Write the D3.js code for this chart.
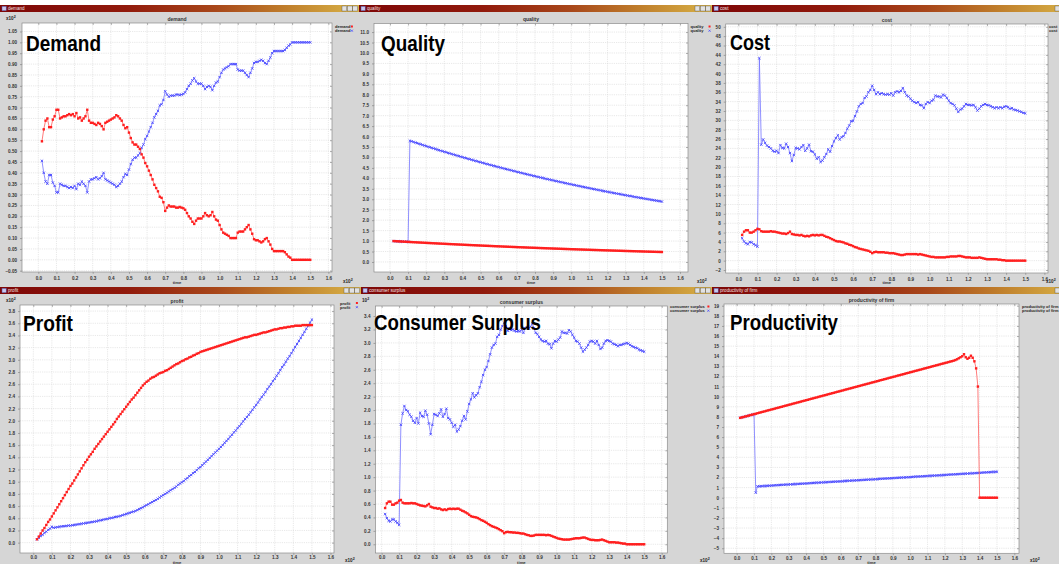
<!DOCTYPE html>
<html>
<head>
<meta charset="utf-8">
<script src="https://cdn.jsdelivr.net/npm/d3@7"></script>
<style>
  body { margin: 0; background: #fff; }
  svg { display: block; }
  text { font-family: "Liberation Sans", Arial, sans-serif; }
</style>
</head>
<body>
<div id="chart"></div>
<script>
// ---- simulation steps (time axis is shown in units of 10^2 steps) ----
const STEP = [
  2,3,4,5,6,7,8,9,10,11,
  12,13,14,15,16,17,18,19,20,21,
  22,23,24,25,26,27,28,29,30,31,
  32,33,34,35,36,37,38,39,40,41,
  42,43,44,45,46,47,48,49,50,51,
  52,53,54,55,56,57,58,59,60,61,
  62,63,64,65,66,67,68,69,70,71,
  72,73,74,75,76,77,78,79,80,81,
  82,83,84,85,86,87,88,89,90,91,
  92,93,94,95,96,97,98,99,100,101,
  102,103,104,105,106,107,108,109,110,111,
  112,113,114,115,116,117,118,119,120,121,
  122,123,124,125,126,127,128,129,130,131,
  132,133,134,135,136,137,138,139,140,141,
  142,143,144,145,146,147,148,149,150
];

// ---- demand (x10^2) ----
const demandRed = [
  0.545,0.60,0.64,0.65,0.61,0.61,0.645,0.66,0.69,0.69,
  0.65,0.655,0.66,0.66,0.665,0.67,0.665,0.67,0.66,0.675,
  0.65,0.655,0.64,0.65,0.66,0.69,0.64,0.63,0.63,0.625,
  0.62,0.63,0.625,0.615,0.60,0.63,0.635,0.64,0.645,0.65,
  0.655,0.665,0.66,0.65,0.64,0.62,0.605,0.61,0.585,0.56,
  0.54,0.53,0.53,0.52,0.51,0.485,0.47,0.445,0.43,0.41,
  0.39,0.37,0.345,0.33,0.315,0.29,0.285,0.265,0.225,0.24,
  0.25,0.245,0.245,0.245,0.24,0.24,0.243,0.24,0.237,0.23,
  0.215,0.20,0.19,0.175,0.165,0.18,0.19,0.19,0.19,0.20,
  0.215,0.205,0.20,0.205,0.22,0.20,0.185,0.18,0.16,0.14,
  0.125,0.12,0.115,0.11,0.10,0.10,0.10,0.10,0.125,0.13,
  0.13,0.13,0.14,0.15,0.16,0.14,0.12,0.095,0.09,0.09,
  0.085,0.08,0.085,0.095,0.10,0.085,0.07,0.05,0.04,0.04,
  0.04,0.04,0.04,0.04,0.035,0.025,0.015,0.01,0.0,0.0,
  0,0,0,0,0,0,0,0,0
];
const demandBlue = [
  0.455,0.40,0.36,0.35,0.39,0.39,0.355,0.34,0.31,0.31,
  0.35,0.345,0.34,0.34,0.335,0.33,0.335,0.33,0.34,0.325,
  0.35,0.345,0.36,0.35,0.34,0.31,0.36,0.37,0.37,0.375,
  0.38,0.37,0.375,0.385,0.40,0.37,0.365,0.36,0.355,0.35,
  0.345,0.335,0.34,0.35,0.36,0.38,0.395,0.39,0.415,0.44,
  0.46,0.47,0.47,0.48,0.49,0.515,0.53,0.555,0.57,0.59,
  0.61,0.63,0.655,0.67,0.685,0.71,0.715,0.735,0.775,0.76,
  0.75,0.755,0.755,0.755,0.76,0.76,0.757,0.76,0.763,0.77,
  0.785,0.80,0.81,0.825,0.835,0.82,0.81,0.81,0.81,0.80,
  0.785,0.795,0.80,0.795,0.78,0.80,0.815,0.82,0.84,0.86,
  0.875,0.88,0.885,0.89,0.90,0.90,0.90,0.90,0.875,0.87,
  0.87,0.87,0.86,0.85,0.84,0.86,0.88,0.905,0.91,0.91,
  0.915,0.92,0.915,0.905,0.90,0.915,0.93,0.95,0.96,0.96,
  0.96,0.96,0.96,0.96,0.965,0.975,0.985,0.99,1.0,1.0,
  1,1,1,1,1,1,1,1,1
];

// ---- quality ----
const qualityRed = [
  1.000,0.995,0.990,0.985,0.980,0.975,0.970,0.966,0.961,0.956,
  0.951,0.946,0.942,0.937,0.932,0.928,0.923,0.918,0.914,0.909,
  0.905,0.900,0.896,0.891,0.887,0.882,0.878,0.873,0.869,0.865,
  0.860,0.856,0.852,0.848,0.843,0.839,0.835,0.831,0.827,0.822,
  0.818,0.814,0.810,0.806,0.802,0.798,0.794,0.790,0.786,0.782,
  0.778,0.774,0.771,0.767,0.763,0.759,0.755,0.751,0.748,0.744,
  0.740,0.736,0.733,0.729,0.725,0.722,0.718,0.715,0.711,0.707,
  0.704,0.700,0.697,0.693,0.690,0.686,0.683,0.680,0.676,0.673,
  0.670,0.666,0.663,0.660,0.656,0.653,0.650,0.647,0.643,0.640,
  0.637,0.634,0.631,0.627,0.624,0.621,0.618,0.615,0.612,0.609,
  0.606,0.603,0.600,0.597,0.594,0.591,0.588,0.585,0.582,0.579,
  0.576,0.573,0.571,0.568,0.565,0.562,0.559,0.556,0.554,0.551,
  0.548,0.545,0.543,0.540,0.537,0.535,0.532,0.529,0.527,0.524,
  0.521,0.519,0.516,0.514,0.511,0.508,0.506,0.503,0.501,0.498,
  0.496,0.493,0.491,0.488,0.486,0.483,0.481,0.479,0.476
];
const qualityBlue = [
  1.000,0.995,0.990,0.985,0.980,0.975,0.970,0.966,0.961,
  5.800,5.771,5.742,5.713,5.685,5.656,5.628,5.600,5.572,5.544,
  5.516,5.488,5.461,5.434,5.406,5.379,5.352,5.326,5.299,5.273,
  5.247,5.220,5.194,5.168,5.142,5.117,5.091,5.066,5.040,5.015,
  4.990,4.965,4.940,4.916,4.891,4.867,4.842,4.818,4.794,4.770,
  4.746,4.722,4.699,4.675,4.652,4.629,4.606,4.583,4.560,4.537,
  4.514,4.492,4.469,4.447,4.425,4.403,4.381,4.359,4.337,4.315,
  4.293,4.272,4.250,4.229,4.208,4.187,4.166,4.145,4.124,4.104,
  4.083,4.063,4.043,4.022,4.002,3.982,3.962,3.943,3.923,3.903,
  3.884,3.864,3.845,3.826,3.807,3.788,3.769,3.750,3.731,3.713,
  3.694,3.676,3.657,3.639,3.621,3.603,3.585,3.567,3.549,3.531,
  3.513,3.496,3.478,3.461,3.444,3.426,3.409,3.392,3.375,3.358,
  3.341,3.325,3.308,3.292,3.275,3.259,3.243,3.227,3.210,3.194,
  3.178,3.162,3.147,3.131,3.115,3.100,3.084,3.069,3.054,3.038,
  3.023,3.008,2.993,2.978,2.963,2.949,2.934,2.919,2.905,2.890
];

// ---- cost ----
const costRed = [
  5.5,6.2,6.5,6.5,6.0,6.0,6.2,6.5,6.8,6.7,
  6.3,6.2,6.2,6.2,6.2,6.3,6.2,6.2,6.1,6.0,
  5.9,5.8,5.8,5.7,5.9,6.2,5.7,5.6,5.5,5.5,
  5.4,5.5,5.3,5.2,5.3,5.2,5.4,5.5,5.4,5.5,
  5.4,5.5,5.5,5.3,5.1,5.0,4.8,4.6,4.4,4.2,
  4.1,4.1,4.0,3.9,3.7,3.6,3.4,3.3,3.1,2.9,
  2.8,2.6,2.5,2.4,2.3,2.2,2.1,1.9,1.6,1.8,
  1.9,1.8,1.8,1.8,1.8,1.7,1.7,1.6,1.6,1.6,
  1.5,1.4,1.3,1.2,1.2,1.3,1.4,1.4,1.4,1.4,
  1.4,1.4,1.3,1.4,1.3,1.2,1.1,1.0,0.9,0.8,
  0.8,0.7,0.7,0.7,0.7,0.7,0.7,0.8,0.8,0.9,
  0.9,0.9,0.9,1.0,1.0,0.9,0.8,0.7,0.7,0.7,
  0.6,0.6,0.6,0.6,0.7,0.6,0.5,0.4,0.3,0.3,
  0.3,0.3,0.3,0.3,0.2,0.2,0.1,0.1,0.0,0.0,
  0,0,0,0,0,0,0,0,0
];
const costBlue = [
  4.8,4.1,3.7,3.5,4.0,3.9,3.5,3.3,3.0,43.3,
  24.8,25.9,25.2,24.6,24.3,24.0,23.5,23.3,23.5,23.0,
  24.7,24.1,24.0,25.0,24.3,23.0,21.3,22.6,24.1,24.0,
  23.8,24.3,24.7,23.5,24.0,24.8,23.4,23.3,22.7,21.8,
  22.1,21.1,21.4,22.1,22.8,23.8,23.3,24.5,25.5,26.2,
  26.8,25.9,26.4,26.6,27.3,28.2,28.9,29.8,29.9,30.9,
  31.9,33.0,33.5,33.7,34.8,35.1,36.0,36.5,37.4,36.5,
  35.6,36.0,35.6,35.8,35.6,35.5,35.6,35.5,35.8,35.3,
  36.0,36.2,36.0,36.3,36.9,36.0,35.3,35.1,34.6,34.2,
  33.9,33.7,33.9,33.3,33.2,32.6,33.5,33.9,33.7,34.2,
  34.4,35.3,35.1,35.1,34.9,35.5,35.3,34.8,34.2,33.7,
  33.5,33.2,32.5,31.8,32.3,32.5,33.0,33.5,33.3,33.3,
  33.2,33.3,32.8,32.1,32.5,33.0,33.3,33.5,33.3,33.2,
  33.0,32.8,32.6,32.8,32.6,32.8,32.6,32.9,33.0,32.8,
  32.5,32.6,32.3,32.2,32.1,31.9,31.8,31.6,31.5
];

// ---- profit ----
const profitRed = [
  0.055,0.10,0.15,0.20,0.24,0.29,0.34,0.38,0.43,0.48,
  0.53,0.58,0.63,0.68,0.73,0.78,0.83,0.88,0.93,0.97,
  1.02,1.07,1.12,1.17,1.22,1.27,1.32,1.36,1.41,1.45,
  1.49,1.54,1.58,1.62,1.66,1.70,1.74,1.78,1.82,1.86,
  1.90,1.94,1.98,2.03,2.07,2.11,2.15,2.19,2.23,2.27,
  2.31,2.35,2.38,2.42,2.46,2.50,2.54,2.58,2.61,2.64,
  2.66,2.69,2.71,2.72,2.74,2.76,2.78,2.79,2.80,2.82,
  2.83,2.85,2.87,2.89,2.91,2.93,2.94,2.96,2.98,2.99,
  3.01,3.02,3.04,3.05,3.07,3.08,3.10,3.11,3.13,3.14,
  3.15,3.16,3.17,3.18,3.19,3.20,3.21,3.22,3.23,3.24,
  3.25,3.26,3.27,3.28,3.29,3.30,3.31,3.32,3.33,3.34,
  3.35,3.36,3.37,3.37,3.38,3.39,3.40,3.41,3.41,3.42,
  3.43,3.44,3.45,3.45,3.46,3.47,3.48,3.49,3.50,3.50,
  3.51,3.52,3.52,3.53,3.53,3.54,3.54,3.55,3.55,3.56,
  3.56,3.56,3.56,3.57,3.57,3.57,3.57,3.57,3.57
];
const profitBlue = [
  0.055,0.08,0.11,0.13,0.16,0.18,0.21,0.23,0.26,0.245,
  0.25,0.255,0.26,0.265,0.27,0.27,0.275,0.28,0.28,0.285,
  0.29,0.295,0.30,0.305,0.31,0.315,0.32,0.325,0.33,0.335,
  0.34,0.345,0.35,0.36,0.365,0.37,0.38,0.385,0.39,0.40,
  0.405,0.41,0.42,0.425,0.43,0.44,0.45,0.46,0.47,0.48,
  0.49,0.50,0.51,0.52,0.535,0.55,0.565,0.58,0.60,0.615,
  0.63,0.65,0.665,0.685,0.70,0.72,0.74,0.76,0.78,0.80,
  0.82,0.84,0.86,0.88,0.90,0.92,0.95,0.97,0.99,1.01,
  1.04,1.06,1.09,1.11,1.14,1.16,1.19,1.22,1.24,1.27,
  1.30,1.33,1.36,1.39,1.42,1.45,1.48,1.51,1.54,1.57,
  1.60,1.64,1.67,1.70,1.74,1.77,1.81,1.84,1.88,1.91,
  1.95,1.99,2.03,2.06,2.10,2.14,2.18,2.22,2.26,2.30,
  2.35,2.39,2.43,2.47,2.52,2.56,2.60,2.65,2.69,2.74,
  2.78,2.83,2.88,2.92,2.97,3.02,3.06,3.11,3.16,3.21,
  3.26,3.31,3.36,3.41,3.46,3.51,3.56,3.61,3.66
];

// ---- consumer surplus ----
const surplusRed = [
  0.54,0.61,0.635,0.635,0.59,0.59,0.61,0.62,0.65,0.66,
  0.62,0.61,0.61,0.61,0.61,0.615,0.61,0.61,0.60,0.59,
  0.58,0.575,0.57,0.565,0.58,0.60,0.56,0.55,0.54,0.54,
  0.53,0.535,0.52,0.51,0.52,0.51,0.525,0.53,0.525,0.53,
  0.525,0.53,0.53,0.515,0.50,0.49,0.475,0.46,0.44,0.42,
  0.41,0.405,0.40,0.39,0.375,0.36,0.35,0.335,0.32,0.30,
  0.285,0.27,0.26,0.25,0.24,0.225,0.21,0.195,0.165,0.18,
  0.185,0.18,0.18,0.175,0.175,0.17,0.17,0.165,0.16,0.16,
  0.15,0.14,0.135,0.125,0.125,0.13,0.14,0.14,0.14,0.14,
  0.14,0.14,0.135,0.14,0.135,0.125,0.115,0.105,0.095,0.085,
  0.08,0.075,0.07,0.07,0.07,0.07,0.075,0.08,0.085,0.09,
  0.09,0.09,0.095,0.10,0.10,0.09,0.08,0.07,0.065,0.065,
  0.06,0.06,0.06,0.065,0.07,0.06,0.05,0.04,0.03,0.03,
  0.03,0.03,0.025,0.025,0.02,0.015,0.01,0.01,0.0,0.0,
  0,0,0,0,0,0,0,0,0
];
const surplusBlue = [
  0.45,0.39,0.35,0.34,0.37,0.37,0.34,0.32,0.29,1.78,
  1.95,2.06,2.00,1.98,1.93,1.90,1.84,1.81,1.88,1.80,
  1.96,1.91,1.90,1.99,1.93,1.80,1.64,1.78,1.94,1.93,
  1.91,1.95,2.01,1.90,1.94,2.02,1.88,1.86,1.81,1.75,
  1.78,1.68,1.71,1.76,1.84,1.91,1.86,1.98,2.09,2.16,
  2.25,2.19,2.22,2.25,2.34,2.42,2.52,2.60,2.64,2.73,
  2.83,2.93,2.97,2.99,3.09,3.12,3.20,3.25,3.30,3.25,
  3.18,3.22,3.19,3.20,3.18,3.17,3.18,3.17,3.20,3.15,
  3.22,3.23,3.22,3.24,3.29,3.22,3.15,3.13,3.09,3.05,
  3.03,3.02,3.03,2.99,2.98,2.92,2.99,3.03,3.02,3.05,
  3.08,3.17,3.15,3.15,3.14,3.19,3.17,3.12,3.08,3.03,
  3.02,2.99,2.93,2.87,2.90,2.93,2.97,3.02,3.03,3.02,
  2.99,3.03,2.97,2.91,2.93,2.99,3.03,3.04,3.03,3.02,
  2.99,2.98,2.97,2.95,2.97,2.97,2.98,2.99,3.00,2.99,
  2.97,2.95,2.94,2.93,2.92,2.90,2.89,2.88,2.87
];

// ---- productivity of firm ----
const prodRed = [
  7.90,7.95,7.99,8.04,8.08,8.13,8.18,8.22,8.27,8.31,
  8.36,8.41,8.45,8.50,8.54,8.59,8.64,8.68,8.73,8.77,
  8.82,8.87,8.91,8.96,9.00,9.05,9.10,9.14,9.19,9.23,
  9.28,9.33,9.37,9.42,9.46,9.51,9.56,9.60,9.65,9.69,
  9.74,9.79,9.83,9.88,9.92,9.97,10.02,10.06,10.11,10.15,
  10.20,10.25,10.29,10.34,10.38,10.43,10.48,10.52,10.57,10.61,
  10.66,10.71,10.75,10.80,10.84,10.89,10.94,10.98,11.03,11.07,
  11.12,11.17,11.21,11.26,11.30,11.35,11.40,11.44,11.49,11.53,
  11.58,11.63,11.67,11.72,11.76,11.81,11.86,11.90,11.95,11.99,
  12.04,12.09,12.13,12.18,12.22,12.27,12.32,12.36,12.41,12.45,
  12.50,12.55,12.59,12.64,12.68,12.73,12.78,12.82,12.87,12.91,
  12.96,13.01,13.05,13.10,13.14,13.19,13.24,13.28,13.33,13.37,
  13.42,13.47,13.51,13.56,13.62,13.70,13.80,13.90,14.00,14.20,
  13.90,13.75,13.85,14.05,13.85,13.50,12.80,11.00,0.00,0.00,
  0,0,0,0,0,0,0,0,0
];
const prodBlue = [
  7.90,7.95,7.99,8.04,8.08,8.13,8.18,8.22,8.27,0.50,
  1.12,1.13,1.14,1.15,1.16,1.17,1.18,1.19,1.20,1.21,
  1.23,1.24,1.25,1.26,1.27,1.28,1.29,1.30,1.31,1.32,
  1.33,1.34,1.35,1.36,1.37,1.38,1.39,1.40,1.41,1.42,
  1.44,1.45,1.46,1.47,1.48,1.49,1.50,1.51,1.52,1.53,
  1.54,1.55,1.56,1.57,1.58,1.59,1.60,1.61,1.62,1.63,
  1.65,1.66,1.67,1.68,1.69,1.70,1.71,1.72,1.73,1.74,
  1.75,1.76,1.77,1.78,1.79,1.80,1.81,1.82,1.83,1.84,
  1.86,1.87,1.88,1.89,1.90,1.91,1.92,1.93,1.94,1.95,
  1.96,1.97,1.98,1.99,2.00,2.01,2.02,2.03,2.04,2.05,
  2.07,2.08,2.09,2.10,2.11,2.12,2.13,2.14,2.15,2.16,
  2.17,2.18,2.19,2.20,2.21,2.22,2.23,2.24,2.25,2.26,
  2.28,2.29,2.30,2.31,2.32,2.33,2.34,2.35,2.36,2.37,
  2.38,2.39,2.40,2.41,2.42,2.43,2.44,2.45,2.46,2.47,
  2.49,2.50,2.51,2.52,2.53,2.54,2.55,2.56,2.57
];

// ---- x axis tick labels (time, x10^2) ----
const X_TICKS = [0.0,0.1,0.2,0.3,0.4,0.5,0.6,0.7,0.8,0.9,1.0,1.1,1.2,1.3,1.4,1.5,1.6];

// ---- panel layout ----
const panels = [
  { key: "demand", title: "demand", legend: "demand", label: "Demand",
    win: [0, 5, 359, 282], plot: [22, 23, 332, 272],
    xDom: [-0.09, 1.62], yDom: [-0.056, 1.089], yTicks: [-0.05, 1.05, 0.05], fmt: ".2f",
    red: demandRed, blue: demandBlue,
    labelAt: [26, 50.5, 75], legendAt: [335, 26.5], yMult: [6, 20], xMult: [343, 283],
    timeY: 283.5, xPad: 2.5 },
  { key: "quality", title: "quality", legend: "quality", label: "Quality",
    win: [359, 5, 353, 282], plot: [374, 23.5, 688, 272],
    xDom: [-0.088, 1.644], yDom: [-0.48, 11.41], yTicks: [0, 11, 0.5], fmt: ".1f",
    red: qualityRed, blue: qualityBlue,
    labelAt: [381, 50.5, 64], legendAt: [690.5, 26.5], yMult: null, xMult: [697, 283],
    timeY: 283.5, xPad: 2.5 },
  { key: "cost", title: "cost", legend: "cost", label: "Cost",
    win: [712, 5, 360, 282], plot: [725.7, 24, 1048, 273],
    xDom: [-0.066, 1.619], yDom: [-2.64, 50.6], yTicks: [-2, 50, 2], fmt: "d",
    red: costRed, blue: costBlue,
    labelAt: [730, 50, 40], legendAt: [1049, 26.7], yMult: null, xMult: [1046, 283],
    timeY: 284, xPad: 2.5 },
  { key: "profit", title: "profit", legend: "profit", label: "Profit",
    win: [0, 287, 361, 280], plot: [20, 305, 334, 553],
    xDom: [-0.0716, 1.619], yDom: [-0.17, 3.9], yTicks: [0, 3.8, 0.2], fmt: ".1f",
    red: profitRed, blue: profitBlue,
    labelAt: [23, 330.7, 50], legendAt: [340, 303], yMult: [6, 302], xMult: [345, 562],
    timeY: 563.6, xPad: 1.2 },
  { key: "surplus", title: "consumer surplus", legend: "consumer surplus", label: "Consumer Surplus",
    win: [361, 287, 351, 280], plot: [375.5, 306, 667.3, 553],
    xDom: [-0.035, 1.632], yDom: [-0.13, 3.55], yTicks: [0, 3.4, 0.2], fmt: ".1f",
    red: surplusRed, blue: surplusBlue,
    labelAt: [374, 330, 167], legendAt: [670, 306.5], yMult: [362, 302], xMult: [700, 562],
    timeY: 563.6, xPad: 1.2 },
  { key: "productivity", title: "productivity of firm", legend: "productivity of firm", label: "Productivity",
    win: [712, 287, 360, 280], plot: [724, 304, 1019, 553.3],
    xDom: [-0.073, 1.627], yDom: [-5.5, 19.17], yTicks: [-5, 19, 1], fmt: "d",
    red: prodRed, blue: prodBlue,
    labelAt: [730, 330, 108], legendAt: [1022, 306], yMult: null, xMult: [1030, 562],
    timeY: 563.6, xPad: 1.2 }
];

const RED = "#ff1f1f", RED_LINE = "#ff5a5a";
const BLUE = "#4b4bff", BLUE_LINE = "#7373ff";

const svg = d3.select("#chart").append("svg")
  .attr("width", 1059).attr("height", 564);
const defs = svg.append("defs");

const bar = defs.append("linearGradient").attr("id", "titlebar")
  .attr("x1", 0).attr("x2", 1).attr("y1", 0).attr("y2", 0);
[[0, "#7e0707"], [0.35, "#911a0c"], [0.6, "#a8471a"], [0.8, "#c07f2c"], [1, "#d8b247"]]
  .forEach(([o, c]) => bar.append("stop").attr("offset", o).attr("stop-color", c));

function multiplier(g, x, y, pre) {
  const t = g.append("text").attr("x", x).attr("y", y)
    .attr("font-size", 4.6).attr("font-weight", "bold").attr("fill", "#222");
  t.append("tspan").text(pre);
  t.append("tspan").attr("dy", -1.6).attr("font-size", 3.6).text("2");
}

panels.forEach(p => {
  const [wx, wy, ww, wh] = p.win;
  const [pl, pt, pr, pb] = p.plot;

  defs.append("clipPath").attr("id", "win-" + p.key)
    .append("rect").attr("x", wx).attr("y", wy).attr("width", ww).attr("height", wh);
  defs.append("clipPath").attr("id", "plot-" + p.key)
    .append("rect").attr("x", pl).attr("y", pt).attr("width", pr - pl).attr("height", pb - pt);

  const g = svg.append("g").attr("clip-path", `url(#win-${p.key})`);

  // window frame
  g.append("rect").attr("x", wx).attr("y", wy).attr("width", ww).attr("height", wh)
    .attr("fill", "#d6d6d6");
  g.append("rect").attr("x", wx).attr("y", wy).attr("width", ww).attr("height", 7)
    .attr("fill", "url(#titlebar)");
  g.append("rect").attr("x", wx + 2).attr("y", wy + 1.3).attr("width", 4.2).attr("height", 4.4)
    .attr("fill", "#c8c8ee").attr("stroke", "#5050a0").attr("stroke-width", 0.5);
  g.append("text").attr("x", wx + 8).attr("y", wy + 5.2)
    .attr("font-size", 4.6).attr("fill", "#f4e4e4").text(p.title);
  [0, 1, 2].forEach(k => {
    const bx = wx + ww - 17 + k * 5.4;
    g.append("rect").attr("x", bx).attr("y", wy + 1).attr("width", 4.8).attr("height", 5)
      .attr("fill", "#e2e2e2").attr("stroke", "#555").attr("stroke-width", 0.4);
  });

  const x = d3.scaleLinear().domain(p.xDom).range([pl, pr]);
  const y = d3.scaleLinear().domain(p.yDom).range([pb, pt]);
  const yVals = d3.range(p.yTicks[0], p.yTicks[1] + p.yTicks[2] / 2, p.yTicks[2]);

  // plot background and grid
  g.append("rect").attr("x", pl).attr("y", pt).attr("width", pr - pl).attr("height", pb - pt)
    .attr("fill", "#fff");
  const grid = g.append("g").attr("stroke", "#d9d9d9").attr("stroke-width", 0.6)
    .attr("stroke-dasharray", "1.2,1");
  grid.selectAll("line.v").data(X_TICKS).join("line")
    .attr("x1", d => x(d)).attr("x2", d => x(d)).attr("y1", pt).attr("y2", pb);
  grid.selectAll("line.h").data(yVals).join("line")
    .attr("x1", pl).attr("x2", pr).attr("y1", d => y(d)).attr("y2", d => y(d));

  // axes
  const fmt = d3.format(p.fmt);
  const axisStyle = sel => {
    sel.select(".domain").remove();
    sel.selectAll(".tick line").attr("stroke", "#666").attr("stroke-width", 0.5);
    sel.selectAll(".tick text").attr("font-size", 4.6).attr("font-weight", "bold")
      .attr("fill", "#333").attr("font-family", "Liberation Sans, Arial, sans-serif");
  };
  g.append("g").attr("transform", `translate(${pl},0)`)
    .call(d3.axisLeft(y).tickValues(yVals).tickFormat(fmt).tickSize(2).tickPadding(3))
    .call(axisStyle);
  g.append("g").attr("transform", `translate(${pr},0)`)
    .call(d3.axisRight(y).tickValues(yVals).tickFormat("").tickSize(-2))
    .call(axisStyle);
  g.append("g").attr("transform", `translate(0,${pb})`)
    .call(d3.axisBottom(x).tickValues(X_TICKS).tickFormat(d3.format(".1f")).tickSize(1.8).tickPadding(p.xPad))
    .call(axisStyle);
  g.append("g").attr("transform", `translate(0,${pt})`)
    .call(d3.axisTop(x).tickValues(X_TICKS).tickFormat("").tickSize(-2))
    .call(axisStyle);
  g.append("rect").attr("x", pl).attr("y", pt).attr("width", pr - pl).attr("height", pb - pt)
    .attr("fill", "none").attr("stroke", "#8c8c8c").attr("stroke-width", 0.7);

  // chart title, axis name, multipliers
  g.append("text").attr("x", (pl + pr) / 2).attr("y", pt - 2.5).attr("text-anchor", "middle")
    .attr("font-size", 5).attr("font-weight", "bold").attr("fill", "#333").text(p.title);
  g.append("text").attr("x", (pl + pr) / 2).attr("y", p.timeY).attr("text-anchor", "middle")
    .attr("font-size", 4.2).attr("font-weight", "bold").attr("fill", "#333").text("time");
  if (p.yMult) multiplier(g, p.yMult[0], p.yMult[1], p.key === "surplus" ? "10" : "x10");
  if (p.xMult) multiplier(g, p.xMult[0], p.xMult[1], "x10");

  // series
  const series = [
    { vals: p.blue, color: BLUE, line: BLUE_LINE, shape: "x" },
    { vals: p.red, color: RED, line: RED_LINE, shape: "sq" }
  ];
  const sg = g.append("g").attr("clip-path", `url(#plot-${p.key})`);
  series.forEach(s => {
    const pts = s.vals.map((v, i) => ({ t: STEP[i] / 100, v }));
    sg.append("path").datum(pts)
      .attr("fill", "none").attr("stroke", s.line).attr("stroke-width", 0.8)
      .attr("d", d3.line().x(d => x(d.t)).y(d => y(d.v)));
    if (s.shape === "sq") {
      sg.append("g").selectAll("rect").data(pts).join("rect")
        .attr("x", d => x(d.t) - 1.2).attr("y", d => y(d.v) - 1.2)
        .attr("width", 2.4).attr("height", 2.4).attr("fill", s.color);
    } else {
      sg.append("g").selectAll("path").data(pts).join("path")
        .attr("transform", d => `translate(${x(d.t)},${y(d.v)})`)
        .attr("d", "M-1.2,-1.2L1.2,1.2M-1.2,1.2L1.2,-1.2")
        .attr("stroke", s.color).attr("stroke-width", 0.9).attr("fill", "none");
    }
  });

  // legend
  const [lx, ly] = p.legendAt;
  [RED, BLUE].forEach((c, k) => {
    const yy = ly + k * 4.2;
    g.append("text").attr("x", lx).attr("y", yy + 1.5)
      .attr("font-size", 4).attr("font-weight", "bold").attr("fill", "#222").text(p.legend);
    const mx = lx + p.legend.length * 2.15 + 4;
    if (k === 0) {
      g.append("rect").attr("x", mx - 1).attr("y", yy - 1).attr("width", 2).attr("height", 2).attr("fill", c);
    } else {
      g.append("path").attr("transform", `translate(${mx},${yy})`)
        .attr("d", "M-1,-1L1,1M-1,1L1,-1").attr("stroke", c).attr("stroke-width", 0.8);
    }
  });

  // panel caption
  const [cx, cy, cw] = p.labelAt;
  g.append("text").attr("x", cx).attr("y", cy)
    .attr("font-family", "'Noto Sans CJK KR', 'Noto Sans', sans-serif")
    .attr("font-weight", "bold").attr("font-size", 21.5).attr("fill", "#000")
    .attr("textLength", cw).attr("lengthAdjust", "spacingAndGlyphs")
    .text(p.label);
});
</script>
</body>
</html>
